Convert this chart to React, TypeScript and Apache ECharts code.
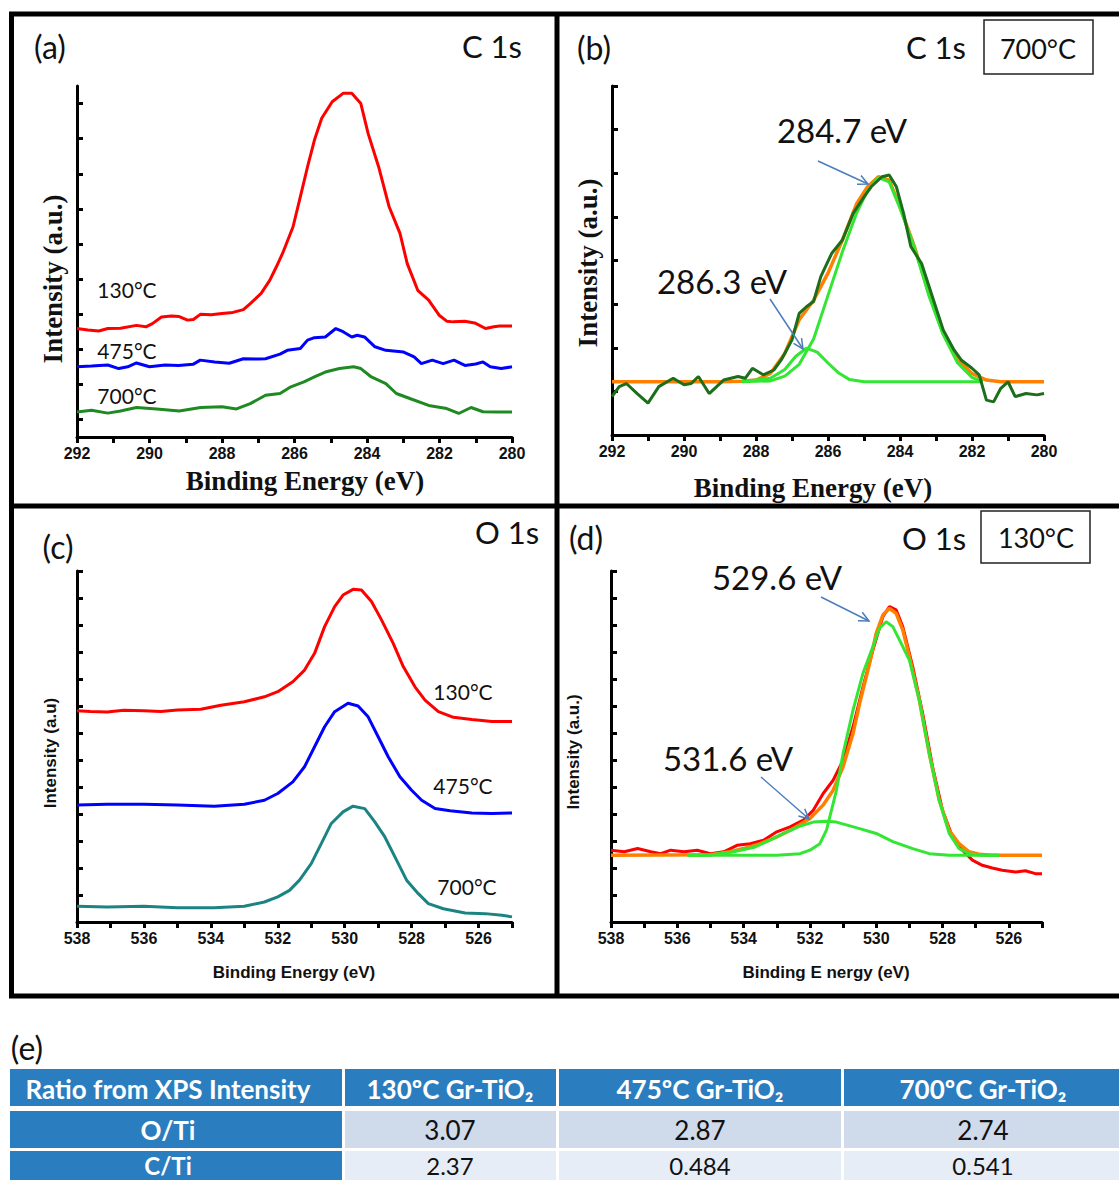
import React, { useEffect, useRef } from "react";
import * as echarts from "echarts";

// ---------- Data ----------
// (a) C 1s, three temperatures  [binding energy eV, intensity a.u.]
const A_130: number[][] = [[292.0,3.09],[291.7,3.05],[291.4,3.02],[291.15,3.09],[290.8,3.1],[290.36,3.18],[290.1,3.14],[289.92,3.23],[289.67,3.42],[289.4,3.45],[289.18,3.43],[288.95,3.33],[288.79,3.35],[288.59,3.5],[288.3,3.48],[288.0,3.52],[287.7,3.55],[287.41,3.63],[287.22,3.8],[286.92,4.09],[286.68,4.47],[286.5,4.85],[286.33,5.23],[286.04,5.99],[285.84,6.84],[285.64,7.7],[285.45,8.46],[285.25,9.08],[284.96,9.55],[284.66,9.79],[284.42,9.79],[284.17,9.5],[283.97,8.65],[283.68,7.7],[283.39,6.56],[283.09,5.8],[282.89,4.94],[282.6,4.18],[282.3,3.9],[282.01,3.47],[281.8,3.3],[281.62,3.28],[281.3,3.3],[281.03,3.25],[280.73,3.09],[280.5,3.14],[280.34,3.16],[280.0,3.16]];
const A_475: number[][] = [[292.0,2.0],[291.6,2.02],[291.15,2.05],[290.85,1.95],[290.6,2.0],[290.36,2.11],[290.0,2.0],[289.57,2.05],[289.2,2.04],[288.8,2.07],[288.6,2.19],[288.2,2.14],[287.8,2.1],[287.41,2.23],[287.0,2.22],[286.8,2.23],[286.4,2.36],[286.2,2.47],[285.84,2.52],[285.64,2.76],[285.45,2.83],[285.15,2.85],[284.86,3.09],[284.66,3.0],[284.42,2.85],[284.27,2.9],[284.07,2.85],[283.78,2.57],[283.48,2.47],[282.99,2.42],[282.7,2.28],[282.5,2.09],[282.2,2.19],[281.9,2.09],[281.6,2.19],[281.3,2.04],[281.0,2.08],[280.8,2.14],[280.6,2.0],[280.3,1.95],[280.0,2.0]];
const A_700: number[][] = [[292.0,0.71],[291.6,0.76],[291.15,0.68],[290.8,0.74],[290.36,0.84],[289.8,0.8],[289.18,0.74],[288.59,0.84],[288.0,0.86],[287.6,0.8],[287.22,0.95],[286.8,1.19],[286.4,1.24],[286.1,1.43],[285.74,1.57],[285.45,1.71],[285.15,1.85],[284.76,1.95],[284.37,2.0],[284.17,1.95],[283.88,1.71],[283.48,1.52],[283.19,1.24],[282.8,1.09],[282.3,0.9],[281.8,0.81],[281.47,0.67],[281.13,0.84],[280.8,0.72],[280.4,0.71],[280.0,0.71]];

// (b) C 1s 700°C deconvolution
const B_RAW: number[][] = [[292.0,0.88],[291.8,1.11],[291.6,1.18],[291.3,0.95],[291.0,0.73],[290.7,1.11],[290.3,1.3],[290.0,1.15],[289.8,1.18],[289.6,1.34],[289.3,0.95],[288.9,1.26],[288.5,1.34],[288.3,1.3],[288.1,1.53],[287.8,1.38],[287.5,1.49],[287.3,1.72],[287.0,2.18],[286.8,2.79],[286.6,2.94],[286.4,3.06],[286.2,3.63],[285.9,4.16],[285.6,4.47],[285.3,5.08],[285.0,5.46],[284.8,5.69],[284.5,5.92],[284.3,5.96],[284.1,5.69],[283.9,5.08],[283.7,4.32],[283.4,3.93],[283.1,3.17],[282.8,2.41],[282.5,1.95],[282.3,1.72],[282.0,1.53],[281.8,1.38],[281.6,0.8],[281.4,0.76],[281.2,1.07],[281.0,1.22],[280.8,0.88],[280.5,0.95],[280.2,0.92],[280.0,0.95]];
const B_FIT: number[][] = [[292.0,1.22],[289.0,1.22],[288.4,1.23],[288.0,1.26],[287.6,1.41],[287.2,1.87],[286.8,2.64],[286.4,3.09],[286.0,3.71],[285.6,4.47],[285.2,5.31],[284.9,5.69],[284.6,5.92],[284.3,5.84],[284.0,5.23],[283.6,4.32],[283.2,3.25],[282.8,2.33],[282.4,1.72],[282.0,1.41],[281.6,1.26],[281.2,1.22],[280.0,1.22]];
const B_PEAK1: number[][] = [[288.4,1.22],[287.6,1.24],[287.2,1.35],[286.8,1.62],[286.4,2.2],[286.0,3.2],[285.6,4.2],[285.2,5.1],[284.9,5.6],[284.6,5.9],[284.3,5.8],[284.0,5.2],[283.6,4.3],[283.2,3.2],[282.8,2.3],[282.4,1.65],[282.0,1.32],[281.7,1.22]];
const B_PEAK2: number[][] = [[288.4,1.22],[287.6,1.3],[287.2,1.5],[286.9,1.8],[286.6,1.99],[286.3,1.9],[286.0,1.65],[285.7,1.42],[285.4,1.27],[285.0,1.22],[281.7,1.22]];

// (c) O 1s, three temperatures
const C_130: number[][] = [[538.0,7.82],[537.6,7.8],[537.1,7.78],[536.6,7.84],[536.0,7.82],[535.5,7.8],[535.0,7.85],[534.3,7.88],[533.7,8.03],[533.0,8.16],[532.4,8.34],[532.0,8.53],[531.55,8.9],[531.2,9.33],[530.9,9.95],[530.6,10.94],[530.3,11.68],[530.05,12.11],[529.75,12.32],[529.5,12.3],[529.2,11.87],[528.9,11.19],[528.55,10.32],[528.25,9.46],[527.9,8.71],[527.6,8.22],[527.2,7.79],[526.75,7.58],[526.2,7.5],[525.6,7.43],[525.0,7.43]];
const C_475: number[][] = [[538.0,4.33],[537.1,4.36],[536.0,4.36],[535.0,4.33],[533.9,4.29],[533.0,4.36],[532.4,4.51],[532.0,4.76],[531.55,5.19],[531.2,5.75],[530.9,6.49],[530.6,7.23],[530.3,7.79],[529.9,8.1],[529.6,8.0],[529.3,7.6],[529.0,6.86],[528.7,6.12],[528.35,5.38],[528.0,4.88],[527.7,4.51],[527.3,4.2],[526.85,4.12],[526.2,4.04],[525.6,4.02],[525.0,4.04]];
const C_700: number[][] = [[538.0,0.58],[537.1,0.56],[536.0,0.58],[535.0,0.53],[533.9,0.53],[533.0,0.58],[532.4,0.74],[532.0,0.93],[531.65,1.17],[531.35,1.55],[531.0,2.16],[530.7,2.9],[530.4,3.65],[530.05,4.08],[529.75,4.29],[529.4,4.2],[529.1,3.71],[528.8,3.15],[528.45,2.29],[528.15,1.55],[527.8,1.05],[527.5,0.68],[527.05,0.49],[526.4,0.33],[525.8,0.31],[525.3,0.25],[525.0,0.19]];

// (d) O 1s 130°C deconvolution
const D_RAW: number[][] = [[538.0,2.66],[537.6,2.6],[537.2,2.72],[536.8,2.6],[536.5,2.53],[536.2,2.66],[535.8,2.6],[535.4,2.66],[535.0,2.53],[534.6,2.6],[534.2,2.84],[533.8,2.9],[533.4,3.03],[533.0,3.34],[532.6,3.52],[532.2,3.77],[531.9,4.14],[531.6,4.76],[531.3,5.25],[531.0,5.99],[530.7,7.23],[530.4,8.71],[530.1,10.07],[529.8,11.31],[529.6,11.68],[529.4,11.56],[529.2,10.94],[528.9,9.46],[528.6,7.73],[528.3,5.75],[528.0,4.14],[527.7,3.15],[527.4,2.66],[527.1,2.29],[526.8,2.1],[526.5,2.0],[526.2,1.92],[525.8,1.85],[525.5,1.9],[525.2,1.79],[525.0,1.79]];
const D_FIT: number[][] = [[538.0,2.47],[535.0,2.49],[534.4,2.6],[534.0,2.72],[533.5,2.9],[533.0,3.15],[532.5,3.46],[532.0,3.83],[531.6,4.33],[531.3,4.88],[531.0,5.75],[530.7,6.98],[530.5,8.1],[530.2,9.58],[530.0,10.69],[529.8,11.37],[529.6,11.62],[529.4,11.43],[529.2,10.82],[529.0,9.83],[528.7,8.22],[528.4,6.24],[528.1,4.51],[527.8,3.4],[527.5,2.9],[527.2,2.6],[526.9,2.51],[526.5,2.47],[525.0,2.47]];
const D_PEAK1: number[][] = [[535.7,2.47],[533.0,2.47],[532.3,2.53],[532.0,2.66],[531.7,2.9],[531.5,3.4],[531.2,4.88],[531.0,6.24],[530.7,7.85],[530.4,9.21],[530.1,10.2],[529.9,10.88],[529.7,11.12],[529.5,10.94],[529.3,10.45],[529.0,9.7],[528.7,8.22],[528.4,6.24],[528.1,4.51],[527.8,3.28],[527.5,2.72],[527.2,2.53],[526.8,2.47],[526.3,2.47]];
const D_PEAK2: number[][] = [[535.7,2.47],[535.05,2.47],[534.3,2.6],[533.65,2.78],[533.2,3.03],[532.8,3.28],[532.3,3.55],[531.9,3.7],[531.5,3.73],[531.2,3.7],[530.5,3.46],[530.0,3.28],[529.5,2.98],[528.9,2.72],[528.4,2.53],[527.8,2.47],[526.3,2.47]];

// (e) table
const TABLE_HEAD: string[] = ["Ratio from XPS Intensity", "130ºC Gr-TiO₂", "475ºC Gr-TiO₂", "700ºC Gr-TiO₂"];
const TABLE_ROWS: string[][] = [
  ["O/Ti", "3.07", "2.87", "2.74"],
  ["C/Ti", "2.37", "0.484", "0.541"],
];

// ---------- Styling helpers ----------
const CAL = '"Lato", "Open Sans", sans-serif';
const SERIF = '"Liberation Serif", serif';
const SANS = '"Liberation Sans", Arial, sans-serif';

function xAx(gi: number, min: number, max: number) {
  return {
    type: "value", gridIndex: gi, min, max, interval: 1, inverse: true,
    axisLine: { show: true, onZero: false, lineStyle: { color: "#000", width: 3 } },
    axisTick: { show: true, inside: false, length: 6, lineStyle: { color: "#000", width: 3 } },
    axisLabel: {
      formatter: (v: number) => (Math.round(v) % 2 === 0 ? String(v) : ""),
      color: "#111", fontFamily: SANS, fontWeight: "bold", fontSize: 16, margin: 8,
    },
    splitLine: { show: false },
  };
}
function yAx(gi: number, max: number, custom?: number[]) {
  const tick: any = { show: true, inside: true, length: 6, lineStyle: { color: "#000", width: 3 } };
  if (custom) tick.customValues = custom;
  return {
    type: "value", gridIndex: gi, min: 0, max, interval: 1,
    axisLine: { show: true, onZero: false, lineStyle: { color: "#000", width: 3 } },
    axisTick: tick,
    axisLabel: { show: false },
    splitLine: { show: false },
  };
}
function ln(data: number[][], color: string, gi: number, z: number, width = 3) {
  return {
    type: "line", xAxisIndex: gi, yAxisIndex: gi, data, showSymbol: false, symbol: "none",
    lineStyle: { color, width }, itemStyle: { color }, silent: true, z,
  };
}
function txt(x: number, y: number, text: string, font: string, opts: any = {}) {
  return {
    type: "text", x, y, rotation: opts.rotation || 0, scaleX: opts.scaleX || 1, z: 100,
    style: { text, font, fill: opts.fill || "#111", align: opts.align || "center", verticalAlign: "middle" },
  };
}
function arrow(x0: number, y0: number, x1: number, y1: number) {
  const dx = x1 - x0, dy = y1 - y0;
  const L = Math.sqrt(dx * dx + dy * dy);
  const ux = dx / L, uy = dy / L;
  const h = 11, a = 0.45;
  const c = Math.cos(a), s = Math.sin(a);
  const p1 = [x1 - h * (ux * c - uy * s), y1 - h * (uy * c + ux * s)];
  const p2 = [x1 - h * (ux * c + uy * s), y1 - h * (uy * c - ux * s)];
  const col = "#4a7ebb";
  return [
    { type: "line", z: 100, shape: { x1: x0, y1: y0, x2: x1, y2: y1 }, style: { stroke: col, lineWidth: 1.5 } },
    { type: "polyline", z: 100, shape: { points: [p1, [x1, y1], p2] }, style: { stroke: col, lineWidth: 1.5, fill: null } },
  ];
}

const COL_X = [10, 345, 559, 844, 1130];
const COL_CX = [168, 450, 700, 983];
const ROW_Y = [[1069, 1106], [1111, 1148], [1151, 1194]];
const BLUE_CELL = "#2a7dbf";
const ROW_FILL = ["#cfdaea", "#e7edf6"];

function tableGraphics() {
  const g: any[] = [];
  for (let c = 0; c < 4; c++) {
    g.push({ type: "rect", z: 50, shape: { x: COL_X[c], y: ROW_Y[0][0], width: COL_X[c + 1] - COL_X[c] - 3, height: ROW_Y[0][1] - ROW_Y[0][0] }, style: { fill: BLUE_CELL } });
    g.push(txt(COL_CX[c], 1089, TABLE_HEAD[c], `bold 26px ${CAL}`, { fill: "#fff" }));
  }
  const textY = [1130, 1165];
  const sizes = [26, 24];
  TABLE_ROWS.forEach((row, r) => {
    const [y0, y1] = ROW_Y[r + 1];
    for (let c = 0; c < 4; c++) {
      g.push({ type: "rect", z: 50, shape: { x: COL_X[c], y: y0, width: COL_X[c + 1] - COL_X[c] - 3, height: y1 - y0 }, style: { fill: c === 0 ? BLUE_CELL : ROW_FILL[r] } });
      g.push(txt(COL_CX[c], textY[r], row[c], c === 0 ? `bold ${sizes[r]}px ${CAL}` : `${sizes[r]}px ${CAL}`, { fill: c === 0 ? "#fff" : "#111" }));
    }
  });
  g.push(txt(27, 1047, "(e)", `32px ${CAL}`));
  return g;
}

const option: any = {
  animation: false,
  backgroundColor: "#fff",
  grid: [
    { left: 77, top: 86, width: 435, height: 351 },
    { left: 612, top: 86, width: 432, height: 349 },
    { left: 77, top: 571, width: 435, height: 351 },
    { left: 611, top: 571, width: 431, height: 351 },
  ],
  xAxis: [xAx(0, 280, 292), xAx(1, 280, 292), xAx(2, 525, 538), xAx(3, 525, 538)],
  yAxis: [
    yAx(0, 10, [0.5, 1.5, 2.5, 3.5, 4.5, 5.5, 6.5, 7.5, 8.5, 9.5]),
    yAx(1, 8),
    yAx(2, 13),
    yAx(3, 13),
  ],
  series: [
    ln(A_130, "#ff0000", 0, 3),
    ln(A_475, "#0000ff", 0, 3),
    ln(A_700, "#1f8a22", 0, 3),
    ln(B_FIT, "#ff8000", 1, 2, 3.5),
    ln(B_PEAK2, "#33e633", 1, 3, 3),
    ln(B_PEAK1, "#33e633", 1, 3, 3),
    ln(B_RAW, "#1b6e1b", 1, 4, 3),
    ln(C_130, "#ff0000", 2, 3),
    ln(C_475, "#0000ff", 2, 3),
    ln(C_700, "#1b8483", 2, 3),
    ln(D_RAW, "#ff0000", 3, 2, 3),
    ln(D_FIT, "#ff8000", 3, 3, 3.5),
    ln(D_PEAK2, "#33e633", 3, 4, 3),
    ln(D_PEAK1, "#33e633", 3, 4, 3),
  ],
  graphic: [
    // frame
    { type: "rect", z: 90, shape: { x: 11.5, y: 14, width: 1120, height: 982 }, style: { stroke: "#000", lineWidth: 5, fill: null } },
    { type: "line", z: 90, shape: { x1: 557, y1: 14, x2: 557, y2: 996 }, style: { stroke: "#000", lineWidth: 5 } },
    { type: "line", z: 90, shape: { x1: 11, y1: 506, x2: 1125, y2: 506 }, style: { stroke: "#000", lineWidth: 5 } },
    // boxes
    { type: "rect", z: 95, shape: { x: 984, y: 20, width: 109, height: 54 }, style: { stroke: "#222", lineWidth: 1.5, fill: "#fff" } },
    { type: "rect", z: 95, shape: { x: 981, y: 511, width: 109, height: 52 }, style: { stroke: "#222", lineWidth: 1.5, fill: "#fff" } },
    // (a)
    txt(50, 46, "(a)", `32px ${CAL}`),
    txt(492, 46, "C 1s", `31px ${CAL}`),
    txt(53, 279, "Intensity (a.u.)", `bold 27px ${SERIF}`, { rotation: Math.PI / 2 }),
    txt(305, 481, "Binding Energy (eV)", `bold 27px ${SERIF}`),
    txt(127, 289, "130°C", `21px ${CAL}`),
    txt(127, 350, "475°C", `21px ${CAL}`),
    txt(127, 395, "700°C", `21px ${CAL}`),
    // (b)
    txt(594, 47, "(b)", `32px ${CAL}`),
    txt(936, 47, "C 1s", `31px ${CAL}`),
    txt(1038, 48, "700°C", `27px ${CAL}`),
    txt(588, 263, "Intensity (a.u.)", `bold 27px ${SERIF}`, { rotation: Math.PI / 2 }),
    txt(813, 488, "Binding Energy (eV)", `bold 27px ${SERIF}`),
    txt(842, 130, "284.7 eV", `33px ${CAL}`),
    txt(722, 281, "286.3 eV", `33px ${CAL}`),
    ...arrow(818, 161, 868, 184),
    ...arrow(770, 299, 803, 349),
    // (c)
    txt(58, 546, "(c)", `32px ${CAL}`),
    txt(507, 532, "O 1s", `31px ${CAL}`),
    txt(50, 753, "Intensity (a.u)", `bold 17px ${SANS}`, { rotation: Math.PI / 2 }),
    txt(294, 972, "Binding Energy (eV)", `bold 17px ${SANS}`),
    txt(463, 691, "130°C", `21px ${CAL}`),
    txt(463, 785, "475°C", `21px ${CAL}`),
    txt(467, 886, "700°C", `21px ${CAL}`),
    // (d)
    txt(586, 537, "(d)", `32px ${CAL}`),
    txt(934, 538, "O 1s", `31px ${CAL}`),
    txt(1036, 537, "130°C", `27px ${CAL}`),
    txt(573, 752, "Intensity (a.u.)", `bold 17px ${SANS}`, { rotation: Math.PI / 2 }),
    txt(826, 972, "Binding E nergy (eV)", `bold 17px ${SANS}`),
    txt(777, 577, "529.6 eV", `33px ${CAL}`),
    txt(728, 758, "531.6 eV", `33px ${CAL}`),
    ...arrow(821, 597, 869, 621),
    ...arrow(761, 777, 809, 819),
    // (e)
    ...tableGraphics(),
  ],
};

export default function App() {
  const ref = useRef<HTMLDivElement>(null);
  useEffect(() => {
    const chart = echarts.init(ref.current!, null, { renderer: "svg" });
    chart.setOption(option);
    return () => chart.dispose();
  }, []);
  return (
    <div
      ref={ref}
      style={{ position: "absolute", left: 0, top: 0, width: 1119, height: 1180, background: "#fff" }}
    />
  );
}
